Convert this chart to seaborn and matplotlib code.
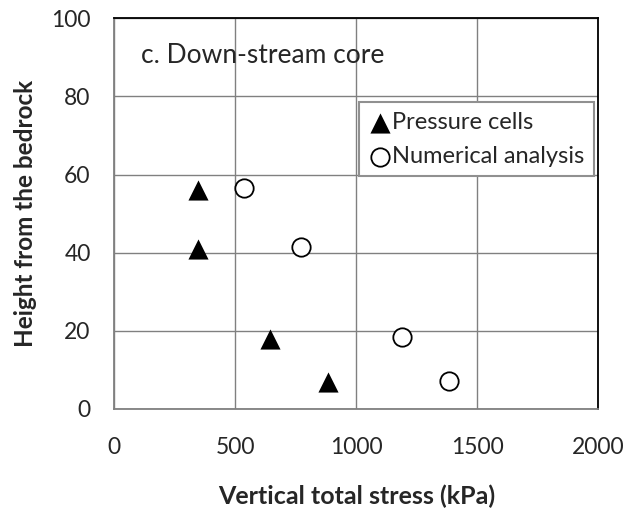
import numpy as np
import pandas as pd
import matplotlib
matplotlib.use("Agg")
import matplotlib.pyplot as plt
import seaborn as sns

# data
height_cells = [56, 41, 18, 7]
stress_cells = [347, 347, 642, 882]
height_num = [56.5, 41.5, 18.4, 7.2]
stress_num = [537, 770, 1189, 1382]

x_ticks = [0, 500, 1000, 1500, 2000]
y_ticks = [0, 20, 40, 60, 80, 100]

df_cells = pd.DataFrame({"stress": stress_cells, "height": height_cells})
df_num = pd.DataFrame({"stress": stress_num, "height": height_num})

sns.set_style("white")
plt.rcParams["font.family"] = ["Lato", "DejaVu Sans"]

fig = plt.figure(figsize=(6.42, 5.08), dpi=100)
ax = fig.add_axes([0.178, 0.195, 0.754, 0.769])

# grid first so markers sit on top
ax.set_axisbelow(True)
ax.grid(True, color="#808080", linewidth=1.0)

sns.scatterplot(data=df_cells, x="stress", y="height", marker="^", s=210,
                color="black", edgecolor="black", linewidth=0,
                label="Pressure cells", ax=ax, zorder=3)
sns.scatterplot(data=df_num, x="stress", y="height", marker="o", s=175,
                facecolor="white", edgecolor="black", linewidth=1.3,
                label="Numerical analysis", ax=ax, zorder=3)

ax.set_xlim(0, 2000)
ax.set_ylim(0, 100)
ax.set_xticks(x_ticks)
ax.set_yticks(y_ticks)
ax.tick_params(axis="x", labelsize=16.5, pad=20, length=0)
ax.tick_params(axis="y", labelsize=16.5, pad=17, length=0)

ax.set_xlabel("Vertical total stress (kPa)", fontsize=18, fontweight="bold", labelpad=19)
ax.set_ylabel("Height from the bedrock", fontsize=17.5, fontweight="bold", labelpad=10)

for side in ["top", "right"]:
    ax.spines[side].set_color("black")
    ax.spines[side].set_linewidth(1.3)
for side in ["left", "bottom"]:
    ax.spines[side].set_color("#808080")
    ax.spines[side].set_linewidth(1.3)

ax.text(0.055, 0.905, "c. Down-stream core", transform=ax.transAxes,
        fontsize=19, va="center", ha="left")

leg = ax.legend(loc="upper right", bbox_to_anchor=(0.99, 0.785), fontsize=17,
                frameon=True, fancybox=False, framealpha=1, edgecolor="#909090",
                handletextpad=0.0, handlelength=1.0, borderpad=0.4,
                labelspacing=0.55, borderaxespad=0)
leg.get_frame().set_linewidth(1.5)

fig.savefig("out.png", dpi=100)
